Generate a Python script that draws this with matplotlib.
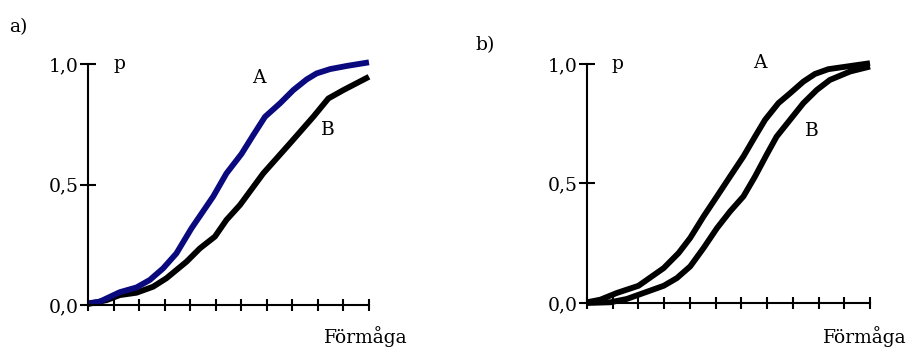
import matplotlib
matplotlib.use('Agg')
import matplotlib.pyplot as plt

# panel a
a_x_A = [0, 0.46, 1.24, 1.9, 2.42, 2.94, 3.46, 4.05, 4.9, 5.42, 6.01, 6.47, 6.93, 7.52, 8.04, 8.56, 8.95, 9.48, 10.13, 11]
a_y_A = [0.007, 0.014, 0.053, 0.073, 0.104, 0.152, 0.214, 0.318, 0.45, 0.546, 0.627, 0.705, 0.781, 0.837, 0.892, 0.936, 0.961, 0.979, 0.992, 1.007]
a_x_B = [0, 0.72, 1.24, 1.9, 2.55, 3.07, 3.86, 4.38, 4.97, 5.42, 5.95, 6.86, 7.91, 8.82, 9.41, 10, 11]
a_y_B = [0.004, 0.02, 0.041, 0.051, 0.076, 0.111, 0.18, 0.235, 0.284, 0.353, 0.415, 0.546, 0.671, 0.781, 0.857, 0.892, 0.947]

# panel b
b_x_A = [0, 0.52, 1.16, 2.0, 2.98, 3.56, 4.01, 4.53, 5.05, 5.56, 6.08, 6.53, 6.92, 7.44, 7.89, 8.41, 8.86, 9.38, 11]
b_y_A = [0.003, 0.014, 0.042, 0.072, 0.146, 0.209, 0.272, 0.362, 0.446, 0.529, 0.613, 0.696, 0.766, 0.836, 0.877, 0.926, 0.958, 0.978, 1.003]
b_x_B = [0, 0.91, 1.55, 2.2, 2.98, 3.49, 4.01, 4.53, 5.05, 5.56, 6.08, 6.53, 6.98, 7.37, 7.89, 8.41, 8.93, 9.44, 10.22, 11]
b_y_B = [0, 0.003, 0.017, 0.042, 0.072, 0.104, 0.153, 0.23, 0.313, 0.383, 0.446, 0.529, 0.62, 0.696, 0.766, 0.836, 0.891, 0.933, 0.968, 0.989]

y_ticks = [0.0, 0.5, 1.0]
y_labels = ['0,0', '0,5', '1,0']
x_ticks = list(range(12))

plt.rcParams['font.family'] = ['DejaVu Serif']
FS = 13.5

fig = plt.figure(figsize=(9.09, 3.47), dpi=100)
ax_a = fig.add_axes([0.0968, 0.121, 0.3091, 0.6945])
ax_b = fig.add_axes([0.6458, 0.1268, 0.3113, 0.689])


def style(ax):
    ax.set_xlim(0, 11)
    ax.set_ylim(0, 1)
    for s in ['top', 'right']:
        ax.spines[s].set_visible(False)
    for s in ['left', 'bottom']:
        ax.spines[s].set_linewidth(1.5)
    ax.set_xticks(x_ticks)
    ax.set_xticklabels([])
    ax.set_yticks(y_ticks)
    ax.set_yticklabels(y_labels, fontsize=FS)
    ax.tick_params(axis='x', direction='inout', length=9, width=1.5)
    ax.tick_params(axis='y', direction='inout', length=11, width=1.5, pad=1)
    ax.patch.set_visible(False)


style(ax_a)
ax_a.plot(a_x_B, a_y_B, color='black', lw=4.2, clip_on=False, solid_capstyle='butt')
ax_a.plot(a_x_A, a_y_A, color='#0a0a7e', lw=4.2, clip_on=False, solid_capstyle='butt')
ax_a.text(1.22, 1.0, 'p', fontsize=FS, va='center', ha='center')
ax_a.text(6.7, 0.94, 'A', fontsize=FS, va='center', ha='center')
ax_a.text(9.4, 0.725, 'B', fontsize=FS, va='center', ha='center')
fig.text(18 / 909, 1 - 27 / 347, 'a)', fontsize=FS, va='center', ha='center')
fig.text(408 / 909, 1 - 343 / 347, 'Förmåga', fontsize=FS, va='baseline', ha='right')

style(ax_b)
ax_b.plot(b_x_B, b_y_B, color='black', lw=4.2, clip_on=False, solid_capstyle='butt')
ax_b.plot(b_x_A, b_y_A, color='black', lw=4.2, clip_on=False, solid_capstyle='butt')
ax_b.text(1.2, 1.0, 'p', fontsize=FS, va='center', ha='center')
ax_b.text(6.7, 1.005, 'A', fontsize=FS, va='center', ha='center')
ax_b.text(8.75, 0.72, 'B', fontsize=FS, va='center', ha='center')
fig.text(485 / 909, 1 - 45 / 347, 'b)', fontsize=FS, va='center', ha='center')
fig.text(907 / 909, 1 - 343 / 347, 'Förmåga', fontsize=FS, va='baseline', ha='right')

fig.savefig('out.png', dpi=100)
